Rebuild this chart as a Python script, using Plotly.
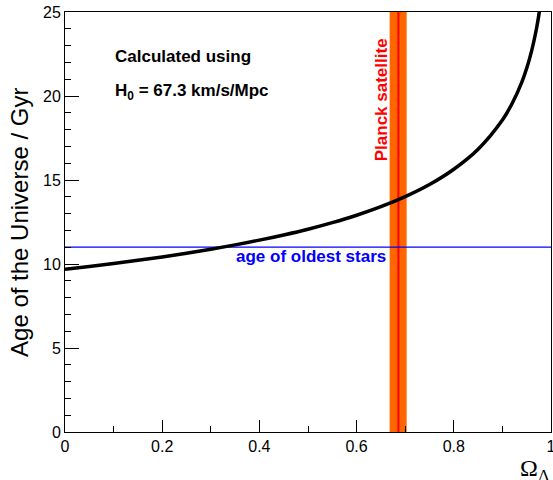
import plotly.graph_objects as go

omega_lambda = [0.0, 0.05, 0.10, 0.15, 0.20, 0.25, 0.30, 0.35, 0.40, 0.45, 0.50,
                0.55, 0.60, 0.65, 0.70, 0.75, 0.80, 0.85, 0.90, 0.92, 0.94,
                0.95, 0.96, 0.97, 0.975, 0.98]
age_gyr = [9.69, 9.85, 10.03, 10.22, 10.42, 10.64, 10.88, 11.14, 11.42, 11.73, 12.07,
           12.46, 12.90, 13.41, 14.01, 14.73, 15.64, 16.83, 18.57, 19.55, 20.83,
           21.65, 22.67, 23.99, 24.83, 25.87]
oldest_stars_age = 11.0
planck_center = 0.686
planck_lo = 0.668
planck_hi = 0.703

FONT = "Liberation Sans, Arial, sans-serif"

fig = go.Figure()
# Planck band
fig.add_trace(go.Scatter(x=[planck_lo, planck_hi, planck_hi, planck_lo, planck_lo],
                         y=[0, 0, 25, 25, 0], fill="toself", fillcolor="#ff6600",
                         line=dict(width=0), mode="lines", hoverinfo="skip"))
fig.add_trace(go.Scatter(x=[planck_center, planck_center], y=[0, 25], mode="lines",
                         line=dict(color="#ff0000", width=2), hoverinfo="skip"))
# oldest stars
fig.add_trace(go.Scatter(x=[0, 1], y=[oldest_stars_age, oldest_stars_age], mode="lines",
                         line=dict(color="#0000ff", width=1.3)))
# age curve
fig.add_trace(go.Scatter(x=omega_lambda, y=age_gyr, mode="lines",
                         line=dict(color="black", width=3.5, shape="spline")))

fig.update_layout(
    width=553, height=480, showlegend=False,
    plot_bgcolor="white", paper_bgcolor="white",
    margin=dict(l=65, r=2, t=12, b=48, autoexpand=False),
    font=dict(family=FONT, size=16, color="black"),
)
fig.update_xaxes(range=[0, 1], showgrid=False, zeroline=False, showline=True,
                 linecolor="black", linewidth=1, mirror=True, automargin=False,
                 ticks="inside", ticklen=12, tickcolor="black", dtick=0.2,
                 tickformat="~g", ticklabeloverflow="allow",
                 minor=dict(ticks="inside", ticklen=6, dtick=0.1, tickcolor="black"),
                 tickfont=dict(size=16))
fig.update_yaxes(range=[0, 25], showgrid=False, zeroline=False, showline=True,
                 linecolor="black", linewidth=1, mirror=True, automargin=False,
                 ticks="inside", ticklen=14, tickcolor="black", dtick=5,
                 ticklabeloverflow="allow",
                 minor=dict(ticks="inside", ticklen=6, dtick=1, tickcolor="black"),
                 tickfont=dict(size=16))

fig.add_annotation(x=-0.0947, y=0.5, xref="paper", yref="paper", text="Age of the Universe / Gyr",
                   textangle=-90, showarrow=False, font=dict(size=24), xanchor="center", yanchor="middle")
fig.add_annotation(x=1.003, y=-0.05, xref="paper", yref="paper", text="Ω<sub>Λ</sub>",
                   showarrow=False, font=dict(size=24, family="Liberation Serif, Times New Roman, serif"),
                   xanchor="right", yanchor="top")
fig.add_annotation(x=0.099, y=0.893, xref="paper", yref="paper", text="<b>Calculated using</b>",
                   showarrow=False, font=dict(size=17), xanchor="left", yanchor="middle")
fig.add_annotation(x=0.099, y=0.81, xref="paper", yref="paper", text="<b>H<sub>0</sub> = 67.3 km/s/Mpc</b>",
                   showarrow=False, font=dict(size=17), xanchor="left", yanchor="middle")
fig.add_annotation(x=0.506, y=10.45, xref="paper", yref="y", text="<b>age of oldest stars</b>",
                   showarrow=False, font=dict(size=17, color="#0000ff"), xanchor="center", yanchor="middle")
fig.add_annotation(x=0.65, y=0.792, xref="paper", yref="paper", text="<b>Planck satellite</b>",
                   textangle=-90, showarrow=False, font=dict(size=17, color="#ff0000"),
                   xanchor="center", yanchor="middle")

fig.write_html("out.html", config={"displayModeBar": False},
               post_script="document.body.style.margin='0px';document.body.style.overflow='hidden';")
